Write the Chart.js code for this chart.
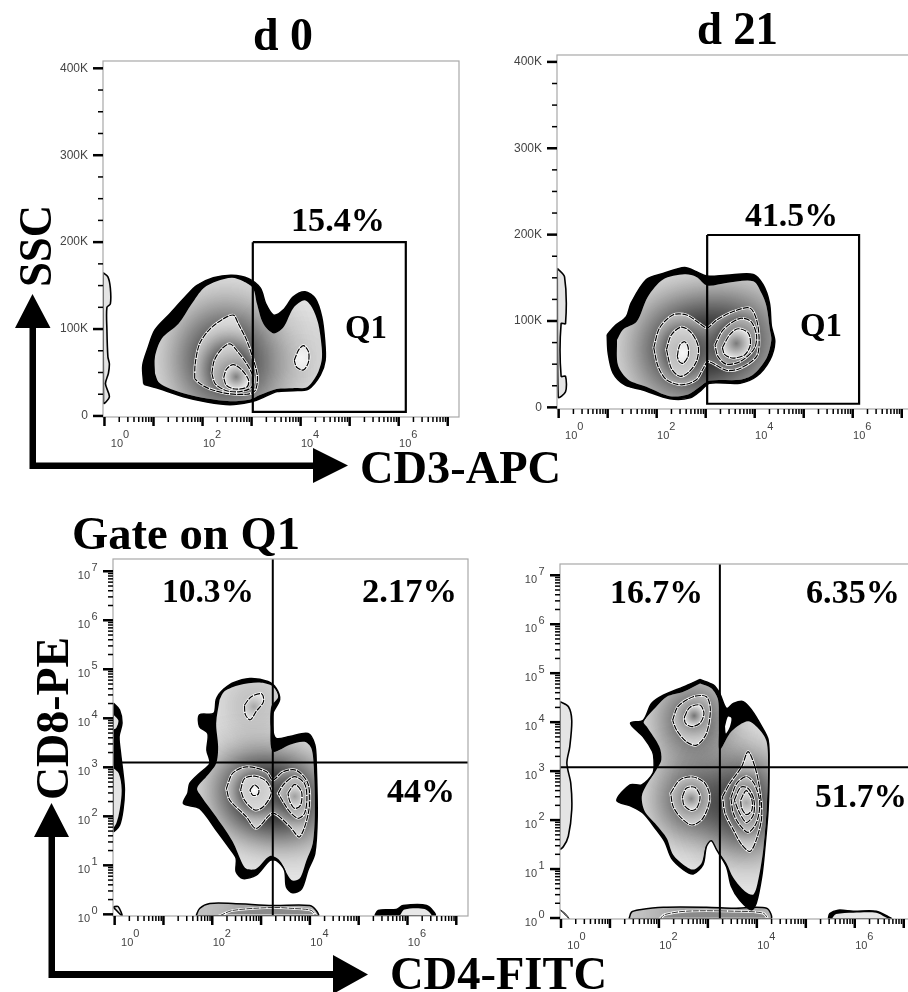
<!DOCTYPE html>
<html><head><meta charset="utf-8">
<script src="https://cdn.jsdelivr.net/npm/chart.js@4/dist/chart.umd.min.js"></script>
<style>
html,body{margin:0;padding:0;background:#fff;overflow:hidden}
#page{position:relative;width:908px;height:992px;overflow:hidden;background:#fff}
canvas{position:absolute;display:block}
svg{position:absolute;left:0;top:0;pointer-events:none}
svg text{font-family:"Liberation Serif","Times New Roman",serif;font-weight:700;fill:#000}
</style></head><body><div id="page">
<canvas id="p1"></canvas><canvas id="p2"></canvas><canvas id="p3"></canvas><canvas id="p4"></canvas>
<svg width="908" height="992" viewBox="0 0 908 992">
<text x="253" y="50" font-size="46" textLength="60" lengthAdjust="spacingAndGlyphs">d 0</text>
<text x="697" y="44" font-size="46" textLength="81" lengthAdjust="spacingAndGlyphs">d 21</text>
<text x="291" y="231" font-size="34" textLength="94" lengthAdjust="spacingAndGlyphs">15.4%</text>
<text x="745" y="226" font-size="34" textLength="93" lengthAdjust="spacingAndGlyphs">41.5%</text>
<text x="345" y="338" font-size="33" textLength="42" lengthAdjust="spacingAndGlyphs">Q1</text>
<text x="800" y="336" font-size="33" textLength="42" lengthAdjust="spacingAndGlyphs">Q1</text>
<text x="360" y="483" font-size="46" textLength="201" lengthAdjust="spacingAndGlyphs">CD3-APC</text>
<text x="72" y="549" font-size="46" textLength="228" lengthAdjust="spacingAndGlyphs">Gate on Q1</text>
<text x="390" y="989" font-size="46" textLength="217" lengthAdjust="spacingAndGlyphs">CD4-FITC</text>
<text x="162" y="602" font-size="34" textLength="92" lengthAdjust="spacingAndGlyphs">10.3%</text>
<text x="362" y="602" font-size="34" textLength="95" lengthAdjust="spacingAndGlyphs">2.17%</text>
<text x="387" y="802" font-size="34" textLength="68" lengthAdjust="spacingAndGlyphs">44%</text>
<text x="610" y="603" font-size="34" textLength="93" lengthAdjust="spacingAndGlyphs">16.7%</text>
<text x="806" y="603" font-size="34" textLength="94" lengthAdjust="spacingAndGlyphs">6.35%</text>
<text x="815" y="807" font-size="34" textLength="92" lengthAdjust="spacingAndGlyphs">51.7%</text>
<text transform="translate(51,287) rotate(-90)" font-size="46" textLength="82" lengthAdjust="spacingAndGlyphs">SSC</text>
<text transform="translate(68,800) rotate(-90)" font-size="46" textLength="163" lengthAdjust="spacingAndGlyphs">CD8-PE</text>
<path d="M29.5 469 V328 H15 L32.5 294 L50.5 328 H36 V462.5 H313 V448 L348 465.5 L313 483 V469 Z" fill="#000"/>
<path d="M48.5 978 V837 H34 L51.5 803 L69 837 H55 V971 H333 V955 L368 974.5 L333 994 V978 Z" fill="#000"/>
</svg>
</div>
<script>
// ---- axis labels and tick values ----
const xLabelDecades = [0, 2, 4, 6];
const yLabelDecades = [0, 1, 2, 3, 4, 5, 6, 7];
const sscMajor = [0, 100, 200, 300, 400];
const sscMinor = [25, 50, 75, 125, 150, 175, 225, 250, 275, 325, 350, 375];
const sscLabels = ['0', '100K', '200K', '300K', '400K'];

// ---- d 0, SSC vs CD3-APC: [log10 CD3-APC, SSC in thousands] ----
const d0Envelope = [[.80,37],[.78,58],[.88,77],[1.03,99],[1.34,118],[1.65,137],[1.88,150],[2.22,159],[2.60,162],[2.94,158],[3.18,147],[3.29,129],[3.45,116],[3.65,122],[3.85,137],[4.09,143],[4.30,135],[4.43,114],[4.49,87],[4.50,64],[4.40,47],[4.16,31],[3.85,29],[3.52,28],[3.18,20],[2.97,16],[2.56,13],[2.09,16],[1.61,22],[1.14,31],[.83,36]];
const d0Band = [[1.03,49],[1.03,68],[1.17,89],[1.51,106],[1.78,129],[2.02,147],[2.29,155],[2.60,159],[2.83,155],[3.03,147],[3.11,129],[3.24,106],[3.45,95],[3.65,102],[3.85,124],[4.08,133],[4.23,125],[4.36,106],[4.43,79],[4.43,64],[4.33,47],[4.13,33],[3.85,32],[3.51,31],[3.17,24],[2.97,19],[2.56,17],[2.09,20],[1.61,26],[1.27,33],[1.10,39]];
const d0Level2 = [[1.84,43],[1.85,60],[1.94,83],[2.15,100],[2.43,112],[2.63,116],[2.73,106],[2.90,87],[3.04,64],[3.12,45],[3.07,29],[2.90,25],[2.49,26],[2.15,31],[1.95,37]];
const d0Level3 = [[2.19,49],[2.24,64],[2.39,77],[2.56,83],[2.70,75],[2.90,60],[3.03,45],[3.00,33],[2.77,28],[2.49,29],[2.26,37]];
const d0Level4 = [[2.43,44],[2.49,54],[2.63,59],[2.80,53],[2.94,41],[2.90,33],[2.66,31],[2.49,35]];
const d0RightPeak = [[3.87,64],[3.96,76],[4.06,81],[4.16,74],[4.16,62],[4.06,53],[3.92,56]];
const d0SideStrip = [[-.03,165],[.07,160],[.12,147],[.12,129],[.05,125],[.05,99],[.07,68],[.10,60],[.08,49],[.02,37],[.10,22],[-.02,15]];
const d0Gate = [[3.025,200],[6.145,200],[6.145,4.6],[3.025,4.6],[3.025,200]];

// ---- d 21, SSC vs CD3-APC ----
const d21Envelope = [[.99,84],[1.14,94],[1.38,105],[1.48,121],[1.79,148],[2.13,155],[2.57,162],[2.81,157],[3.02,152],[3.42,153],[3.97,154],[4.17,142],[4.30,121],[4.34,94],[4.41,76],[4.31,55],[4.04,36],[3.70,28],[3.08,28],[2.91,20],[2.68,11],[2.27,10],[1.72,20],[1.35,26],[1.11,40],[1.01,63]];
const d21Band = [[1.19,78],[1.31,90],[1.59,99],[1.82,128],[2.13,148],[2.57,154],[2.81,151],[3.03,141],[3.42,144],[3.97,146],[4.14,132],[4.24,117],[4.31,90],[4.34,78],[4.24,57],[3.97,38],[3.70,32],[3.08,31],[2.88,24],[2.64,15],[2.27,13],[1.79,24],[1.42,32],[1.21,49]];
const d21Level2 = [[1.94,69],[2.06,92],[2.33,107],[2.61,107],[2.88,97],[3.03,92],[3.22,101],[3.56,111],[3.90,115],[4.04,101],[4.09,78],[4.04,59],[3.70,45],[3.42,43],[3.05,53],[2.95,45],[2.81,32],[2.51,26],[2.20,32],[2.03,47]];
const d21LeftLevel3 = [[2.20,67],[2.30,84],[2.51,93],[2.71,86],[2.85,70],[2.81,53],[2.64,40],[2.47,36],[2.30,45]];
const d21LeftLevel4 = [[2.42,59],[2.47,72],[2.57,76],[2.64,70],[2.64,59],[2.54,51],[2.46,53]];
const d21RightLevel3 = [[3.19,72],[3.36,90],[3.70,103],[3.93,99],[4.04,82],[3.98,67],[3.70,53],[3.42,50],[3.25,59]];
const d21RightLevel4 = [[3.34,69],[3.49,84],[3.66,91],[3.87,86],[3.91,72],[3.80,61],[3.56,57],[3.39,61]];
const d21SideStrip = [[-.03,161],[.12,151],[.14,97],[.05,97],[.05,36],[.14,36],[.14,18],[-.01,12]];
const d21Gate = [[3.03,199.6],[6.13,199.6],[6.13,4.2],[3.03,4.2],[3.03,199.6]];

// ---- Gate on Q1 d 0, CD8-PE vs CD4-FITC: [log10 CD4, log10 CD8] ----
const q0Envelope = [[2.15,4.51],[2.08,4.38],[2.03,4.10],[1.74,4.07],[1.74,3.83],[1.91,3.69],[1.89,3.35],[1.95,3.08],[1.74,2.88],[1.54,2.67],[1.50,2.47],[1.41,2.26],[1.74,2.16],[2.08,1.72],[2.36,1.34],[2.49,1.14],[2.49,.87],[2.63,.73],[2.90,.80],[3.18,1.10],[3.31,1.10],[3.48,.90],[3.52,.56],[3.65,.44],[3.83,.52],[3.96,.90],[4.10,1.24],[4.15,1.99],[4.13,3.08],[4.10,3.46],[3.96,3.69],[3.59,3.63],[3.31,3.59],[3.24,3.76],[3.24,4.10],[3.38,4.38],[3.31,4.61],[3.14,4.75],[2.77,4.81],[2.42,4.72],[2.22,4.58]];
const q0Band = [[2.15,4.38],[2.08,3.90],[2.12,3.42],[2.08,3.08],[1.88,2.81],[1.69,2.57],[1.78,2.40],[2.08,1.99],[2.42,1.48],[2.60,1.07],[2.70,.93],[2.90,.93],[3.18,1.19],[3.38,1.10],[3.62,.70],[3.79,.73],[3.93,1.10],[4.06,1.45],[4.10,2.06],[4.08,3.01],[4.03,3.39],[3.89,3.52],[3.59,3.46],[3.24,3.32],[3.19,3.83],[3.21,4.24],[3.35,4.44],[3.24,4.65],[2.97,4.73],[2.56,4.68],[2.25,4.55]];
const q0Level2 = [[2.29,2.57],[2.42,2.88],[2.70,3.01],[3.11,2.91],[3.24,2.74],[3.45,2.91],[3.72,2.94],[3.96,2.67],[3.98,2.13],[3.79,1.58],[3.59,1.79],[3.24,2.06],[2.90,1.75],[2.70,1.99],[2.36,2.33]];
const q0LeftLevel3 = [[2.58,2.54],[2.66,2.77],[2.87,2.82],[3.11,2.71],[3.21,2.47],[3.04,2.19],[2.87,2.13],[2.66,2.33]];
const q0LeftLevel4 = [[2.77,2.54],[2.86,2.64],[2.95,2.57],[2.94,2.45],[2.83,2.43]];
const q0RightLevel3 = [[3.35,2.47],[3.48,2.67],[3.69,2.81],[3.89,2.67],[3.94,2.37],[3.89,2.06],[3.76,1.96],[3.59,2.09],[3.45,2.30]];
const q0RightLevel4 = [[3.55,2.47],[3.69,2.65],[3.83,2.50],[3.81,2.23],[3.69,2.16],[3.59,2.30]];
const q0UpperPeak = [[2.66,4.27],[2.80,4.44],[3.01,4.50],[3.05,4.34],[2.90,4.14],[2.78,3.97],[2.68,4.07]];
const q0SideEnvelope = [[-.03,4.31],[.10,4.17],[.15,3.90],[.09,3.63],[.12,3.29],[.17,2.88],[.20,2.54],[.17,2.13],[.10,1.82],[-.03,1.70]];
const q0SideBand = [[-.03,3.01],[.10,2.88],[.16,2.54],[.12,2.13],[.05,1.85],[-.03,1.75]];
const q0SidePatch = [[-.03,4.10],[.09,3.97],[.05,3.80],[-.03,3.76]];
const q0BottomOuter = [[1.67,-.03],[1.74,.12],[1.95,.22],[2.42,.22],[3.24,.18],[4.00,.18],[4.13,.08],[4.17,-.03]];
const q0BottomInner = [[2.15,-.03],[2.42,.08],[3.24,.14],[3.65,.12],[4.03,.08],[4.10,-.03]];
const q0FarEnvelope = [[5.33,-.03],[5.40,.08],[5.77,.10],[5.91,.18],[6.39,.18],[6.56,-.03]];
const q0FarBand = [[5.84,-.03],[5.94,.10],[6.35,.11],[6.49,-.03]];
const q0Corner = [[-.03,.15],[.07,.16],[.15,-.03]];
const q0QuadX = [[3.24,-.03],[3.24,7.25]];
const q0QuadY = [[-.03,3.10],[7.24,3.10]];

// ---- Gate on Q1 d 21, CD8-PE vs CD4-FITC ----
const q21Envelope = [[2.84,4.87],[3.11,4.76],[3.24,4.59],[3.38,4.28],[3.52,4.38],[3.72,4.42],[3.89,4.25],[4.10,3.91],[4.23,3.64],[4.25,3.09],[4.23,2.21],[4.16,1.39],[4.10,.85],[3.99,.31],[3.89,.17],[3.65,.37],[3.48,.65],[3.38,1.05],[3.18,1.39],[3.07,1.58],[2.97,1.46],[2.90,1.09],[2.70,.90],[2.50,.99],[2.26,1.22],[2.12,1.56],[1.95,1.80],[1.68,2.14],[1.44,2.28],[1.14,2.40],[1.41,2.72],[1.65,2.72],[1.88,2.96],[1.90,3.23],[1.87,3.40],[1.68,3.70],[1.42,3.98],[1.68,4.04],[1.85,4.38],[2.09,4.55],[2.50,4.72]];
const q21Band = [[2.84,4.79],[3.07,4.69],[3.21,4.45],[3.23,3.91],[3.24,3.43],[3.48,3.81],[3.82,4.02],[4.06,3.84],[4.20,3.60],[4.23,3.09],[4.20,2.21],[4.13,1.39],[4.03,.78],[3.93,.48],[3.76,.54],[3.52,.82],[3.38,1.12],[3.21,1.36],[3.07,1.56],[2.96,1.46],[2.87,1.12],[2.70,.99],[2.50,1.09],[2.29,1.29],[2.16,1.63],[1.95,1.90],[1.71,2.18],[1.65,2.48],[1.75,2.72],[1.95,3.03],[2.05,3.23],[2.01,3.50],[1.75,3.91],[1.69,4.01],[1.95,4.32],[2.16,4.52],[2.50,4.62]];
const q21Hole = [[3.35,3.91],[3.41,4.11],[3.48,4.08],[3.45,3.91],[3.37,3.77]];
const q21UpperLevel2 = [[2.28,4.04],[2.39,4.32],[2.70,4.52],[2.97,4.52],[3.05,4.25],[2.97,3.77],[2.77,3.53],[2.56,3.60],[2.36,3.84]];
const q21UpperLevel3 = [[2.52,4.11],[2.63,4.30],[2.84,4.35],[2.92,4.18],[2.84,3.98],[2.67,3.91],[2.54,3.98]];
const q21LowerLevel2 = [[2.24,2.55],[2.43,2.82],[2.70,2.88],[2.94,2.75],[3.04,2.45],[2.90,2.04],[2.67,1.90],[2.43,2.07],[2.29,2.28]];
const q21LowerLevel3 = [[2.48,2.48],[2.56,2.65],[2.73,2.67],[2.84,2.48],[2.77,2.24],[2.65,2.20],[2.51,2.31]];
const q21RightLevel2 = [[3.30,2.48],[3.45,2.75],[3.69,3.09],[3.82,3.40],[3.96,3.09],[4.06,2.62],[4.10,2.07],[3.99,1.60],[3.86,1.36],[3.69,1.50],[3.52,1.80],[3.35,2.14]];
const q21RightLevel3 = [[3.47,2.45],[3.59,2.75],[3.79,2.89],[3.96,2.72],[4.06,2.35],[3.99,1.94],[3.82,1.75],[3.65,1.90],[3.52,2.14]];
const q21RightLevel4 = [[3.54,2.41],[3.67,2.67],[3.82,2.65],[3.94,2.41],[3.93,2.11],[3.79,1.95],[3.65,2.14]];
const q21RightLevel5 = [[3.67,2.41],[3.78,2.60],[3.89,2.45],[3.90,2.21],[3.79,2.11],[3.69,2.24]];
const q21SideStrip = [[-.02,4.42],[.15,4.32],[.22,4.04],[.18,3.50],[.12,3.16],[.20,2.75],[.22,2.21],[.15,1.67],[.05,1.46],[-.03,1.41]];
const q21BottomOuter = [[1.39,-.02],[1.44,.12],[1.61,.17],[2.09,.22],[2.97,.22],[3.52,.20],[4.20,.20],[4.28,-.02]];
const q21BottomInner = [[2.02,-.02],[2.12,.07],[2.56,.14],[3.52,.14],[4.13,.10],[4.20,-.02]];
const q21FarEnvelope = [[5.46,-.02],[5.49,.09],[5.66,.16],[5.97,.14],[6.44,.14],[6.68,.03],[6.75,-.02]];
const q21FarBand = [[5.53,-.02],[5.62,.08],[5.97,.11],[6.44,.11],[6.62,.02],[6.68,-.02]];
const q21Corner = [[-.02,.17],[.08,.10],[.17,-.02]];
const q21QuadX = [[3.245,-.02],[3.245,7.23]];
const q21QuadY = [[-.02,3.08],[7.23,3.08]];

// ---- drawing styles ----
const LIGHT = '#e6e6e6';
const ENV = {fill:'#000', border:1.5};
const BAND = {fill:LIGHT, border:0};
const LEVEL = {fill:LIGHT, border:1.2, white:true};
const STRIP = {fill:'#e4e4e4', border:1.6};
const THIN = {fill:'#8a8a8a', border:.8, white:true};

const panels = [
 {id:'p1', box:[103,61,459,417], xr:[-.03,7.23], yr:[-1.2,408.4], logY:false, blur:[60,2],
  layers:[
   [d0SideStrip,STRIP,'side'],
   [d0Envelope,ENV,'envelope'],
   [d0Band,BAND,'outer band',[3,6]],
   [d0Level2,LEVEL,'level 2',[4]],
   [d0Level3,LEVEL,'level 3',[5]],
   [d0Level4,LEVEL,'level 4',[],'#808080'],
   [d0RightPeak,LEVEL,'right peak',[],'#f4f4f4'],
  ],
  lines:[[d0Gate,2.2,'Q1 gate']]},
 {id:'p2', box:[557,55,913,409], xr:[-.034,7.23], yr:[-1.9,408], logY:false, blur:[60,2],
  layers:[
   [d21SideStrip,STRIP,'side'],
   [d21Envelope,ENV,'envelope'],
   [d21Band,BAND,'outer band',[3]],
   [d21Level2,LEVEL,'level 2',[4,6]],
   [d21LeftLevel3,LEVEL,'left level 3',[5]],
   [d21LeftLevel4,LEVEL,'left level 4',[],'#f6f6f6'],
   [d21RightLevel3,LEVEL,'right level 3',[7]],
   [d21RightLevel4,LEVEL,'right level 4',[],'#7a7a7a'],
  ],
  lines:[[d21Gate,2.2,'Q1 gate']]},
 {id:'p3', box:[113,559,468,916], xr:[-.034,7.24], yr:[-.034,7.25], logY:true, blur:[48,2],
  layers:[
   [q0SideEnvelope,ENV,'side envelope'],
   [q0SideBand,STRIP,'side band'],
   [q0SidePatch,STRIP,'side patch'],
   [q0Corner,STRIP,'corner'],
   [q0BottomOuter,{fill:'#c8c8c8',border:1.5},'bottom outer',[5]],
   [q0BottomInner,THIN,'bottom inner'],
   [q0FarEnvelope,ENV,'far envelope'],
   [q0FarBand,{fill:'#e8e8e8',border:0},'far band'],
   [q0Envelope,ENV,'envelope'],
   [q0Band,BAND,'outer band',[10,15]],
   [q0Level2,LEVEL,'level 2',[11,13]],
   [q0LeftLevel3,LEVEL,'left level 3',[12]],
   [q0LeftLevel4,LEVEL,'left level 4',[],'#ffffff'],
   [q0RightLevel3,LEVEL,'right level 3',[14]],
   [q0RightLevel4,LEVEL,'right level 4',[],'#a0a0a0'],
   [q0UpperPeak,LEVEL,'upper peak',[],'#a8a8a8'],
  ],
  lines:[[q0QuadX,2,'quadrant CD4'],[q0QuadY,2,'quadrant CD8']]},
 {id:'p4', box:[560,564,915,919], xr:[-.02,7.23], yr:[-.02,7.23], logY:true, blur:[48,2],
  layers:[
   [q21SideStrip,STRIP,'side'],
   [q21Corner,{fill:'#bbb',border:.8},'corner'],
   [q21BottomOuter,{fill:'#c8c8c8',border:1.5},'bottom outer',[3]],
   [q21BottomInner,THIN,'bottom inner'],
   [q21FarEnvelope,ENV,'far envelope'],
   [q21FarBand,{fill:'#e8e8e8',border:0},'far band'],
   [q21Envelope,ENV,'envelope'],
   [q21Hole,{fill:'#ffffff',border:0},'hole'],
   [q21Band,BAND,'outer band',[9,11,13]],
   [q21UpperLevel2,LEVEL,'upper level 2',[10]],
   [q21UpperLevel3,LEVEL,'upper level 3',[],'#747474'],
   [q21LowerLevel2,LEVEL,'lower level 2',[12]],
   [q21LowerLevel3,LEVEL,'lower level 3',[],'#8a8a8a'],
   [q21RightLevel2,LEVEL,'right level 2',[14]],
   [q21RightLevel3,LEVEL,'right level 3',[15]],
   [q21RightLevel4,LEVEL,'right level 4',[16]],
   [q21RightLevel5,LEVEL,'right level 5',[],'#a8a8a8'],
  ],
  lines:[[q21QuadX,2,'quadrant CD4'],[q21QuadY,2,'quadrant CD8']]},
];

// ---- plugin: shaded contour fills, box, tick marks and decade exponents ----
const LABEL_FONT = '11px "Liberation Sans",Arial,sans-serif';
function tracePath(chart, i){
  const ctx = chart.ctx, el = chart.getDatasetMeta(i).dataset;
  el.updateControlPoints(chart.chartArea, 'x');
  ctx.beginPath(); el.path(ctx); ctx.closePath();
}
const flowPlugin = {
  id:'flow',
  beforeDraw(chart){
    const first = chart.scales.x.getLabelItems().filter(it=>it.label==='10')[0];
    if(first && !first.moved){ first.options.translation[0]+=6; first.moved=true; }
  },
  beforeDatasetsDraw(chart){
    const ctx = chart.ctx, a = chart.chartArea, [blur,passes] = chart.options.plugins.flow.shade;
    ctx.save(); ctx.beginPath(); ctx.rect(a.left,a.top,a.right-a.left,a.bottom-a.top); ctx.clip();
    chart.data.datasets.forEach((ds,i)=>{
      const s = ds.shade; if(!s) return;
      tracePath(chart,i);
      if(s.core){
        const pts = chart.getDatasetMeta(i).data;
        const xs = pts.map(p=>p.x), ys = pts.map(p=>p.y);
        const cx=(Math.min(...xs)+Math.max(...xs))/2, cy=(Math.min(...ys)+Math.max(...ys))/2;
        const r=Math.max(Math.max(...xs)-Math.min(...xs),Math.max(...ys)-Math.min(...ys))/2;
        const g=ctx.createRadialGradient(cx,cy,0,cx,cy,r);
        g.addColorStop(0,s.core); g.addColorStop(1,LIGHT);
        ctx.fillStyle=g;
      } else ctx.fillStyle=s.fill;
      ctx.fill();
      (s.kids||[]).forEach(k=>{
        ctx.save();
        tracePath(chart,i); ctx.clip();
        const b = s.white ? blur*.55 : blur;
        for(let p=0;p<passes;p++){
          ctx.shadowColor = '#000';
          ctx.shadowBlur = b; ctx.fillStyle='#000';
          tracePath(chart,k); ctx.fill();
        }
        ctx.restore();
      });
    });
    // white halo under every inner contour line
    chart.data.datasets.forEach((ds,i)=>{
      if(ds.shade && ds.shade.white){
        tracePath(chart,i); ctx.strokeStyle='#fff'; ctx.lineWidth=2.6; ctx.stroke();
      }
    });
    ctx.restore();
  },
  afterDatasetsDraw(chart){
    const ctx = chart.ctx, a = chart.chartArea, sx = chart.scales.x, sy = chart.scales.y;
    ctx.save();
    ctx.strokeStyle='#a8a8a8'; ctx.lineWidth=1.2;
    ctx.strokeRect(a.left,a.top,a.right-a.left,a.bottom-a.top);
    ctx.strokeStyle='#000';
    sx.ticks.forEach(t=>{
      const px = sx.getPixelForValue(t.value);
      ctx.lineWidth = t.major?2.5:1.5; ctx.beginPath();
      ctx.moveTo(px,a.bottom); ctx.lineTo(px,a.bottom+(t.major?9:5)); ctx.stroke();
    });
    sy.ticks.forEach(t=>{
      const py = sy.getPixelForValue(t.value);
      ctx.lineWidth = t.major?2.5:1.5; ctx.beginPath();
      ctx.moveTo(a.left,py); ctx.lineTo(a.left-(t.major?10:5),py); ctx.stroke();
    });
    // decade exponents beside the "10" tick labels
    ctx.fillStyle='#444'; ctx.font=LABEL_FONT; ctx.textAlign='left'; ctx.textBaseline='middle';
    xLabelDecades.forEach(d=>{
      const px = sx.getPixelForValue(Math.pow(10,d));
      ctx.fillText(String(d), px+(d===0?18.5:12.5), a.bottom+18);
    });
    if(chart.options.plugins.flow.logY) yLabelDecades.forEach(d=>{
      const py = sy.getPixelForValue(Math.pow(10,d));
      ctx.fillText(String(d), a.left-21.5, py-3);
    });
    ctx.restore();
  }
};

function logTicks(min,max){
  const out=[];
  for(let n=0;n<8;n++) for(let k=1;k<10;k++){
    const v=k*Math.pow(10,n);
    if(v>=min && v<=max) out.push({value:v,major:k===1});
  }
  return out;
}
const W=70, H=46, TOP=14, RIGHT=2;
const tickFont = {family:'"Liberation Sans",Arial,sans-serif',size:11};

panels.forEach(p=>{
  const [L,T,R,B]=p.box, c=document.getElementById(p.id);
  c.width=R-L+W+RIGHT; c.height=B-T+TOP+H;
  c.style.left=(L-W)+'px'; c.style.top=(T-TOP)+'px';
  c.style.width=c.width+'px'; c.style.height=c.height+'px';
  const toPt=([a,b])=>({x:Math.pow(10,a), y:p.logY?Math.pow(10,b):b});
  const close=a=>a.concat([a[0]]);
  const datasets=[];
  p.layers.forEach(([pts,style,label,kids,core])=>{
    datasets.push({
      label, data:close(pts).map(toPt), showLine:true, pointRadius:0, tension:.3,
      borderColor:'#000', borderWidth:style.border, fill:false,
      borderDash:style.white?[6,1]:[],
      shade:{fill:style.fill,white:style.white,kids:kids||[],core}
    });
  });
  p.lines.forEach(([pts,w,label])=>{
    datasets.push({label,data:pts.map(toPt),showLine:true,pointRadius:0,tension:0,borderColor:'#000',borderWidth:w,fill:false,order:-1});
  });
  const yScale = p.logY ? {
    type:'logarithmic', min:Math.pow(10,p.yr[0]), max:Math.pow(10,p.yr[1]),
    afterBuildTicks(ax){ax.ticks=logTicks(ax.min,ax.max);},
    ticks:{autoSkip:false,padding:23,labelOffset:5,color:'#444',font:tickFont,
      callback(v){return yLabelDecades.some(d=>Math.abs(Math.pow(10,d)-v)<1e-6*v)?'10':'';}}
  } : {
    type:'linear', min:p.yr[0], max:p.yr[1],
    afterBuildTicks(ax){ax.ticks=sscMajor.map(v=>({value:v,major:true})).concat(sscMinor.map(v=>({value:v,major:false}))).sort((a,b)=>a.value-b.value);},
    ticks:{autoSkip:false,padding:15,color:'#444',font:{family:tickFont.family,size:12},
      callback(v){const i=sscMajor.indexOf(v);return i<0?'':sscLabels[i];}}
  };
  new Chart(c,{
    type:'scatter',
    data:{datasets},
    plugins:[flowPlugin],
    options:{
      responsive:false, animation:false, devicePixelRatio:1,
      layout:{autoPadding:false,padding:{top:TOP,right:RIGHT,left:0,bottom:0}},
      plugins:{legend:{display:false},tooltip:{enabled:false},title:{display:false},flow:{shade:p.blur,logY:p.logY}},
      scales:{
        x:{type:'logarithmic',min:Math.pow(10,p.xr[0]),max:Math.pow(10,p.xr[1]),
          grid:{display:false,drawTicks:false},border:{display:false},
          afterBuildTicks(ax){ax.ticks=logTicks(ax.min,ax.max);},
          afterFit(ax){ax.height=H;ax.paddingLeft=0;ax.paddingRight=0;},
          ticks:{autoSkip:false,maxRotation:0,minRotation:0,padding:20,labelOffset:6.5,color:'#444',font:tickFont,
            callback(v){return xLabelDecades.some(d=>Math.abs(Math.pow(10,d)-v)<1e-6*v)?'10':'';}}},
        y:Object.assign(yScale,{grid:{display:false,drawTicks:false},border:{display:false},afterFit(ax){ax.width=W;ax.paddingTop=0;ax.paddingBottom=0;}})
      }
    }
  });
});
</script>
</body></html>
